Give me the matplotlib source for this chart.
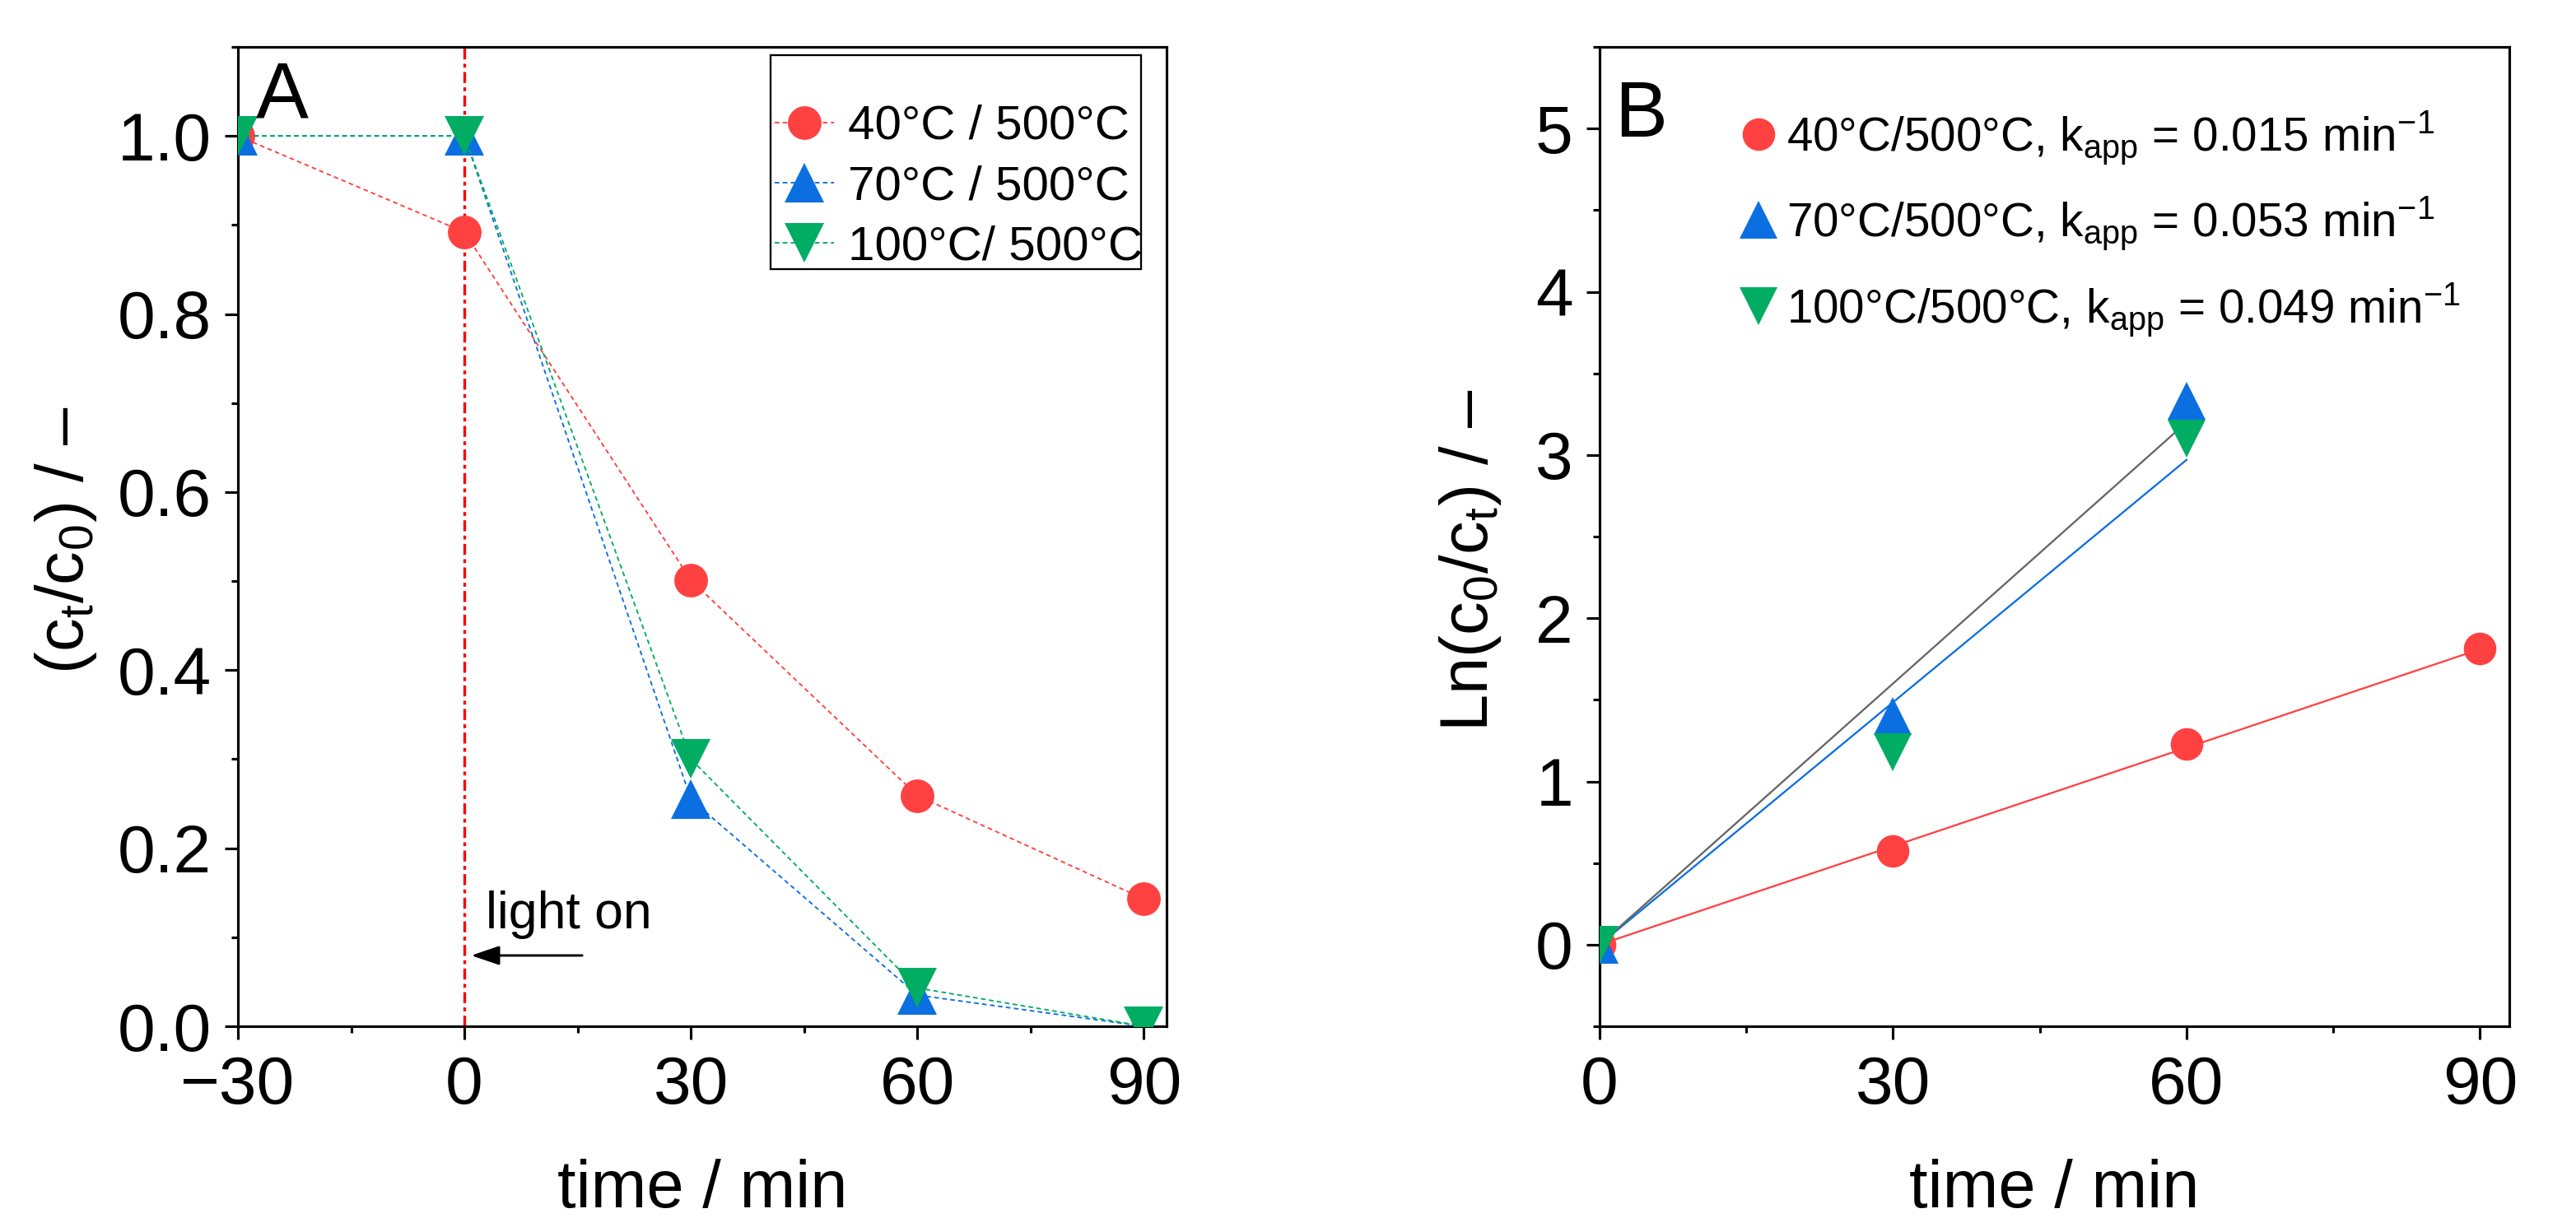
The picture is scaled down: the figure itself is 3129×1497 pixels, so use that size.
import matplotlib
matplotlib.use("Agg")
import matplotlib.pyplot as plt
from matplotlib.ticker import MultipleLocator
from matplotlib.patches import Rectangle

plt.rcParams['font.family'] = ['Liberation Sans', 'DejaVu Sans']
plt.rcParams['mathtext.fontset'] = 'custom'
plt.rcParams['mathtext.rm'] = 'Liberation Sans'
plt.rcParams['mathtext.it'] = 'Liberation Sans:italic'
plt.rcParams['mathtext.bf'] = 'Liberation Sans:bold'

# ---------------- data: panel A ----------------
time_A = [-30, 0, 30, 60, 90]
ratio_40 = [1.0, 0.892, 0.501, 0.259, 0.143]
ratio_70 = [1.0, 1.0, 0.255, 0.035, 0.0]
ratio_100 = [1.0, 1.0, 0.300, 0.043, 0.0]
labels_A = ["40°C / 500°C", "70°C / 500°C", "100°C/ 500°C"]

# ---------------- data: panel B ----------------
time_B = [0, 30, 60, 90]
ln_40 = [0.0, 0.575, 1.23, 1.815]
time_B2 = [0, 30, 60]
ln_70 = [0.0, 1.40, 3.33]
ln_100 = [0.0, 1.18, 3.10]
fit_x_40 = [0, 90]
fit_y_40 = [0.0, 1.81]
fit_x_70 = [0, 60]
fit_y_70 = [0.0, 2.97]
fit_x_100 = [0, 60]
fit_y_100 = [0.0, 3.20]
labels_B = [r"40°C/500°C, k$_{\mathrm{app}}$ = 0.015 min$^{\mathrm{-1}}$",
            r"70°C/500°C, k$_{\mathrm{app}}$ = 0.053 min$^{\mathrm{-1}}$",
            r"100°C/500°C, k$_{\mathrm{app}}$ = 0.049 min$^{\mathrm{-1}}$"]

RED = "#FF4141"
BLUE = "#0B6FE2"
GREEN = "#00AD63"
GRAY = "#656565"

fig = plt.figure(figsize=(3129/300, 1497/300), dpi=300)
axA = fig.add_axes([289/3129, 250/1497, 1128/3129, 1190/1497])
axB = fig.add_axes([1943/3129, 250/1497, 1105/3129, 1190/1497])

TICK_FS = 19.7
LABEL_FS = 19.5

def style(ax):
    for s in ax.spines.values():
        s.set_linewidth(0.75)
    ax.tick_params(which='both', direction='out', top=False, right=False,
                   width=0.75, labelsize=TICK_FS)
    ax.tick_params(axis='x', which='both', pad=4.5)
    ax.tick_params(axis='y', which='both', pad=3.8)
    ax.tick_params(which='major', length=3.9)
    ax.tick_params(which='minor', length=2.0)

# ---------------- panel A ----------------
dash = (0, (3, 2.2))
axA.axvline(0, color="#FF0000", lw=0.8, linestyle=(0, (4, 1.6, 1.4, 1.6)), zorder=1)
axA.plot(time_A, ratio_40, color=RED, lw=0.45, linestyle=dash, marker='o',
         ms=9.8, mec='none', mfc=RED, label=labels_A[0], zorder=3)
axA.plot(time_A, ratio_70, color=BLUE, lw=0.45, linestyle=dash, marker='^',
         ms=11.5, mec='none', mfc=BLUE, label=labels_A[1], zorder=3)
axA.plot(time_A, ratio_100, color=GREEN, lw=0.45, linestyle=dash, marker='v',
         ms=11.5, mec='none', mfc=GREEN, label=labels_A[2], zorder=3)

axA.set_xlim(-30, 93)
axA.set_ylim(0, 1.1)
axA.xaxis.set_major_locator(MultipleLocator(30))
axA.xaxis.set_minor_locator(MultipleLocator(15))
axA.yaxis.set_major_locator(MultipleLocator(0.2))
axA.yaxis.set_minor_locator(MultipleLocator(0.1))
axA.yaxis.set_major_formatter(plt.FuncFormatter(lambda v, p: f"{v:.1f}"))
style(axA)
axA.set_xlabel("time / min", fontsize=LABEL_FS, labelpad=12)
axA.set_ylabel(r"(c$_{\mathrm{t}}$/c$_{\mathrm{0}}$) / –", fontsize=LABEL_FS)
axA.yaxis.set_label_coords(-0.150, 0.497)

axA.annotate("", xy=(0.9, 0.0795), xytext=(15.6, 0.0795),
             arrowprops=dict(arrowstyle='-|>,head_length=0.5,head_width=0.17',
                             lw=0.7, color='black', mutation_scale=14,
                             shrinkA=0, shrinkB=0))
axA.text(2.8, 0.11, "light on", fontsize=15, ha='left', va='baseline')
axA.text(0.0195, 0.987, "A", transform=axA.transAxes, fontsize=23,
         ha='left', va='top')

axA.add_patch(Rectangle((0.5736, 0.7731), 0.9725 - 0.5736, 0.9916 - 0.7731,
                        transform=axA.transAxes, fill=False, ec='black',
                        lw=0.55, zorder=5))
legA = axA.legend(loc='center left', bbox_to_anchor=(0.578, 0.857),
                  fontsize=14, frameon=False, borderpad=0, labelspacing=0.33,
                  handlelength=1.24, handletextpad=0.28, borderaxespad=0)

# ---------------- panel B ----------------
axB.plot(fit_x_40, fit_y_40, color=RED, lw=0.55, zorder=2)
axB.plot(fit_x_70, fit_y_70, color=BLUE, lw=0.55, zorder=2)
axB.plot(fit_x_100, fit_y_100, color=GRAY, lw=0.55, zorder=2)
axB.plot(time_B, ln_40, linestyle='none', marker='o', ms=9.5, mec='none',
         mfc=RED, label=labels_B[0], zorder=3)
axB.plot(time_B2, ln_70, linestyle='none', marker='^', ms=11, mec='none',
         mfc=BLUE, label=labels_B[1], zorder=3)
axB.plot(time_B2, ln_100, linestyle='none', marker='v', ms=11, mec='none',
         mfc=GREEN, label=labels_B[2], zorder=3)

axB.set_xlim(0, 93)
axB.set_ylim(-0.5, 5.5)
axB.xaxis.set_major_locator(MultipleLocator(30))
axB.xaxis.set_minor_locator(MultipleLocator(15))
axB.yaxis.set_major_locator(MultipleLocator(1))
axB.yaxis.set_minor_locator(MultipleLocator(0.5))
style(axB)
axB.set_xlabel("time / min", fontsize=LABEL_FS, labelpad=12)
axB.set_ylabel(r"Ln(c$_{\mathrm{0}}$/c$_{\mathrm{t}}$) / –", fontsize=LABEL_FS)
axB.yaxis.set_label_coords(-0.106, 0.476)
axB.text(0.016, 0.9675, "B", transform=axB.transAxes, fontsize=23,
         ha='left', va='top')

legB = axB.legend(loc='upper left', bbox_to_anchor=(0.152, 0.937),
                  fontsize=13.6, frameon=False, borderpad=0, labelspacing=0.62,
                  handlelength=0.9, handletextpad=0.15, borderaxespad=0)

fig.savefig("out.png", dpi=300)
